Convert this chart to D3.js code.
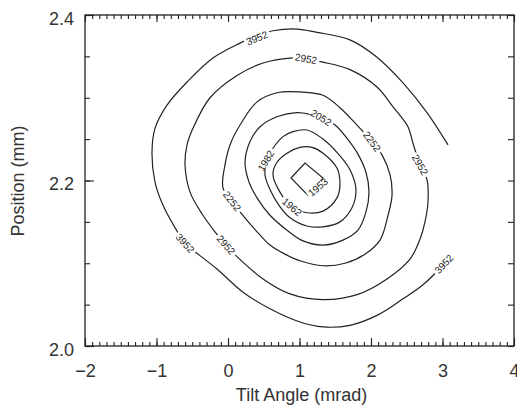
<!DOCTYPE html>
<html>
<head>
<meta charset="utf-8">
<script src="https://cdn.jsdelivr.net/npm/d3@7"></script>
<style>
  body { margin: 0; background: #fff; }
  svg { display: block; }
  .tick text { font-family: "Liberation Sans", Arial, sans-serif; font-size: 18px; fill: #333; }
  .tick line { stroke: #222; stroke-width: 1.1; }
</style>
</head>
<body>
<svg id="chart" width="517" height="407"></svg>
<script>
// contour levels, outermost first
var levels = [3952, 2952, 2252, 2052, 1982, 1962, 1953];

// traced contour lines, [tilt angle (mrad), position (mm)]
var c3952 = [[3.077,2.243],[2.783,2.282],[2.448,2.318],[2.084,2.349],[1.706,2.370],[1.245,2.379],
  [0.965,2.383],[0.629,2.381],[0.420,2.376],[0.168,2.366],[-0.210,2.348],[-0.573,2.319],
  [-0.853,2.291],[-1.021,2.263],[-1.063,2.234],[-1.021,2.198],[-0.909,2.170],[-0.741,2.143],
  [-0.587,2.122],[-0.434,2.112],[-0.154,2.093],[0.210,2.065],[0.587,2.045],[1.007,2.029],
  [1.329,2.023],[1.706,2.025],[2.084,2.037],[2.448,2.057],[2.727,2.074],[2.965,2.094],[3.133,2.111]];
var c2952 = [[1.077,2.347],[1.329,2.343],[1.706,2.334],[2.084,2.313],[2.308,2.289],[2.517,2.265],
  [2.587,2.245],[2.685,2.219],[2.783,2.201],[2.797,2.174],[2.755,2.150],[2.685,2.129],
  [2.545,2.105],[2.224,2.081],[1.804,2.062],[1.329,2.056],[0.867,2.063],[0.490,2.081],
  [0.126,2.108],[-0.028,2.122],[-0.182,2.138],[-0.350,2.158],[-0.531,2.186],[-0.601,2.219],
  [-0.573,2.243],[-0.490,2.263],[-0.252,2.300],[0.126,2.327],[0.490,2.342],[0.867,2.348]];
var c2252 = [[0.685,2.306],[1.007,2.307],[1.329,2.303],[1.566,2.288],[1.804,2.267],[2.014,2.247],
  [2.154,2.231],[2.266,2.207],[2.294,2.182],[2.238,2.158],[2.126,2.128],[1.916,2.111],
  [1.636,2.100],[1.329,2.097],[1.007,2.103],[0.797,2.111],[0.587,2.122],[0.406,2.138],
  [0.168,2.162],[0.056,2.175],[-0.070,2.191],[-0.042,2.219],[0.028,2.243],[0.168,2.267],[0.406,2.295]];
var c2052 = [[1.301,2.276],[1.497,2.267],[1.664,2.251],[1.804,2.234],[1.930,2.210],[1.972,2.186],
  [1.930,2.162],[1.818,2.140],[1.608,2.128],[1.329,2.122],[1.049,2.127],[0.825,2.140],
  [0.587,2.158],[0.406,2.179],[0.294,2.198],[0.238,2.222],[0.308,2.247],[0.448,2.265],
  [0.685,2.277],[0.965,2.282],[1.147,2.280]];
var c1982 = [[1.105,2.261],[1.315,2.251],[1.524,2.234],[1.706,2.213],[1.790,2.189],[1.734,2.167],
  [1.566,2.150],[1.329,2.144],[1.105,2.145],[0.867,2.155],[0.713,2.170],[0.587,2.189],
  [0.517,2.207],[0.531,2.224],[0.629,2.239],[0.769,2.253],[0.909,2.259]];
var c1962 = [[1.007,2.240],[1.175,2.240],[1.329,2.233],[1.524,2.215],[1.566,2.195],[1.524,2.179],
  [1.329,2.163],[1.105,2.161],[0.895,2.168],[0.727,2.186],[0.629,2.207],[0.685,2.222],[0.825,2.233]];
var c1953 = [[0.881,2.203],[1.077,2.221],[1.329,2.203],[1.119,2.182]];

// contour labels: [level, tilt, position, angle on page]
var contourLabels = [
  [3952, 0.406, 2.372, -22], [3952, -0.601, 2.124, 48], [3952, 3.021, 2.099, -47],
  [2952, 1.091, 2.347, 10], [2952, 2.685, 2.219, 60], [2952, -0.028, 2.122, 48],
  [2252, 2.014, 2.247, 53], [2252, 0.056, 2.175, 52],
  [2052, 1.301, 2.276, 32],
  [1982, 0.531, 2.224, -59],
  [1962, 0.895, 2.168, 40],
  [1953, 1.260, 2.192, -40]
];

var xTicks = [-2, -1, 0, 1, 2, 3, 4];
var yTicks = [2.0, 2.2, 2.4];
var xTitle = "Tilt Angle (mrad)";
var yTitle = "Position (mm)";

var svg = d3.select("#chart");
var pL = 85, pR = 514, pT = 15, pB = 346;

var x = d3.scaleLinear().domain([-2, 4]).range([pL, pR]);
var y = d3.scaleLinear().domain([2.0, 2.4]).range([pB, pT]);

function noDomain(g) { g.select(".domain").remove(); }

// minor ticks
svg.append("g").attr("transform", "translate(0," + pB + ")")
  .call(d3.axisBottom(x).tickValues(x.ticks(60)).tickSize(-4).tickFormat(""))
  .call(noDomain);
svg.append("g").attr("transform", "translate(0," + pT + ")")
  .call(d3.axisTop(x).tickValues(x.ticks(60)).tickSize(-4).tickFormat(""))
  .call(noDomain);
svg.append("g").attr("transform", "translate(" + pL + ",0)")
  .call(d3.axisLeft(y).tickValues(y.ticks(8)).tickSize(-5).tickFormat(""))
  .call(noDomain);
svg.append("g").attr("transform", "translate(" + pR + ",0)")
  .call(d3.axisRight(y).tickValues(y.ticks(8)).tickSize(-6).tickFormat(""))
  .call(noDomain);

// major ticks + labels
svg.append("g").attr("transform", "translate(0," + pB + ")")
  .call(d3.axisBottom(x).tickValues(xTicks).tickSize(-8).tickPadding(18)
    .tickFormat(function (d) { return d < 0 ? "\u2212" + (-d) : d; }))
  .call(noDomain);
svg.append("g").attr("transform", "translate(0," + pT + ")")
  .call(d3.axisTop(x).tickValues(xTicks).tickSize(-7).tickFormat(""))
  .call(noDomain);
svg.append("g").attr("transform", "translate(" + pL + ",0)")
  .call(d3.axisLeft(y).tickValues(yTicks).tickSize(-9).tickPadding(11).tickFormat(d3.format(".1f")))
  .call(noDomain)
  .selectAll("text").attr("dy", "0.5em");

// frame
svg.append("rect")
  .attr("x", pL).attr("y", pT)
  .attr("width", pR - pL).attr("height", pB - pT)
  .attr("fill", "none").attr("stroke", "#222").attr("stroke-width", 1.3);

// contour lines
function gen(curve) {
  return d3.line().x(function (d) { return x(d[0]); }).y(function (d) { return y(d[1]); }).curve(curve);
}
var contours = [c3952, c2952, c2252, c2052, c1982, c1962, c1953];
var cg = svg.append("g").attr("fill", "none").attr("stroke", "#222").attr("stroke-width", 1.2);
contours.forEach(function (c, i) {
  var g;
  if (i === 0) g = gen(d3.curveCatmullRom.alpha(0.5));          // open at the right edge of the data
  else if (levels[i] === 1953) g = gen(d3.curveLinearClosed);
  else g = gen(d3.curveCatmullRomClosed.alpha(0.5));
  cg.append("path").attr("d", g(c));
});

// contour labels, with a white gap in the line
var lg = svg.append("g");
contourLabels.forEach(function (l) {
  var g = lg.append("g")
    .attr("transform", "translate(" + x(l[1]) + "," + y(l[2]) + ") rotate(" + l[3] + ")");
  var bg = g.append("rect").attr("fill", "#fff");
  var t = g.append("text")
    .attr("text-anchor", "middle").attr("dy", "0.35em")
    .attr("font-family", "Liberation Sans, Arial, sans-serif")
    .attr("font-size", 10).attr("fill", "#222")
    .text(l[0]);
  var b = t.node().getBBox();
  bg.attr("x", b.x - 2).attr("y", -3).attr("width", b.width + 4).attr("height", 6);
});

// axis titles
svg.append("text")
  .attr("x", (pL + pR) / 2 + 2).attr("y", 401)
  .attr("text-anchor", "middle")
  .attr("font-family", "Liberation Sans, Arial, sans-serif")
  .attr("font-size", 18).attr("fill", "#333")
  .text(xTitle);
svg.append("text")
  .attr("transform", "translate(24,181) rotate(-90)")
  .attr("text-anchor", "middle")
  .attr("font-family", "Liberation Sans, Arial, sans-serif")
  .attr("font-size", 18).attr("fill", "#333")
  .text(yTitle);
</script>
</body>
</html>
